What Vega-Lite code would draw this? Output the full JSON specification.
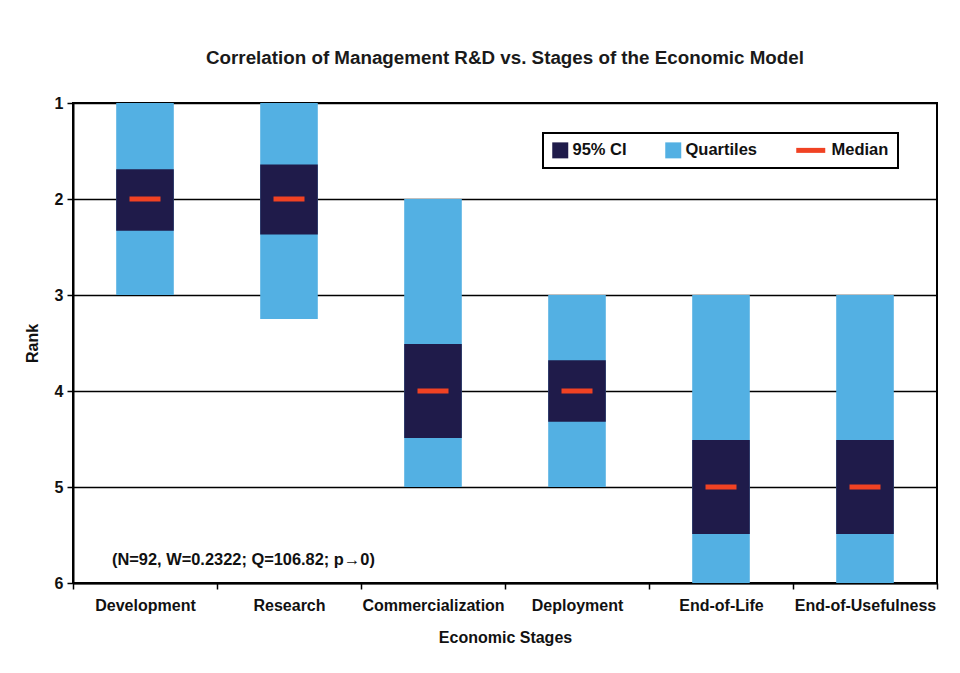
{
  "$schema": "https://vega.github.io/schema/vega-lite/v6.json",
  "width": 864,
  "height": 480,
  "autosize": {"type": "none"},
  "padding": {"left": 73, "top": 103, "right": 23, "bottom": 90},
  "background": "white",
  "config": {
    "font": "Liberation Sans",
    "view": {"stroke": "black", "strokeWidth": 2},
    "axis": {"labelFont": "Liberation Sans", "titleFont": "Liberation Sans", "labelFontWeight": "bold", "titleFontWeight": "bold", "labelColor": "#111", "titleColor": "#111"}
  },
  "title": {
    "text": "Correlation of Management R&D vs. Stages of the Economic Model",
    "font": "Liberation Sans",
    "fontSize": 18.8,
    "fontWeight": "bold",
    "color": "#1a1a1a",
    "anchor": "middle",
    "offset": 27
  },
  "data": {
    "values": [
      {"stage": "Development", "q1": 1, "q3": 3, "lo": 1.69, "hi": 2.33, "med": 2},
      {"stage": "Research", "q1": 1, "q3": 3.25, "lo": 1.64, "hi": 2.37, "med": 2},
      {"stage": "Commercialization", "q1": 2, "q3": 5, "lo": 3.51, "hi": 4.49, "med": 4},
      {"stage": "Deployment", "q1": 3, "q3": 5, "lo": 3.68, "hi": 4.32, "med": 4},
      {"stage": "End-of-Life", "q1": 3, "q3": 6, "lo": 4.51, "hi": 5.49, "med": 5},
      {"stage": "End-of-Usefulness", "q1": 3, "q3": 6, "lo": 4.51, "hi": 5.49, "med": 5}
    ]
  },
  "encoding": {
    "x": {
      "field": "stage",
      "type": "nominal",
      "sort": null,
      "scale": {"paddingInner": 0, "paddingOuter": 0},
      "axis": {
        "title": "Economic Stages",
        "labelAngle": 0,
        "labelFontSize": 16,
        "titleFontSize": 16,
        "labelPadding": 8,
        "titlePadding": 16,
        "tickBand": "extent",
        "tickColor": "black",
        "tickSize": 6,
        "tickWidth": 1.5,
        "domainColor": "black",
        "domainWidth": 2
      }
    }
  },
  "layer": [
    {
      "mark": {"type": "bar", "width": {"band": 0.4}},
      "encoding": {
        "y": {
          "field": "q1",
          "type": "quantitative",
          "scale": {"domain": [1, 6], "reverse": true, "nice": false, "zero": false},
          "axis": {
            "title": "Rank",
            "values": [1, 2, 3, 4, 5, 6],
            "format": "d",
            "labelFontSize": 16,
            "titleFontSize": 16,
            "grid": true,
            "gridColor": "black",
            "gridWidth": 1.5,
            "tickColor": "black",
            "tickSize": 6,
            "tickWidth": 1.5,
            "labelPadding": 4,
            "titlePadding": 14,
            "domainColor": "black",
            "domainWidth": 2
          }
        },
        "y2": {"field": "q3"},
        "color": {
          "datum": "Quartiles",
          "scale": {"domain": ["95% CI", "Quartiles", "Median"], "range": ["#1f1b4a", "#53b0e3", "#f04223"]},
          "legend": {
            "title": null,
            "orient": "none",
            "legendX": 470,
            "legendY": 30,
            "direction": "horizontal",
            "padding": 9,
            "strokeColor": "black",
            "fillColor": "white",
            "symbolSize": 256,
            "symbolType": "square",
            "symbolStrokeWidth": 0,
            "labelFont": "Liberation Sans",
            "labelFontSize": 16.5,
            "labelFontWeight": "bold",
            "labelColor": "#111",
            "columnPadding": 38,
            "labelOffset": 4,
            "encode": {
              "legend": {"update": {"strokeWidth": {"value": 2}}},
              "labels": {"update": {"dx": {"signal": "datum.value === 'Median' ? 15 : 0"}}},
              "symbols": {
                "update": {
                  "shape": {"signal": "datum.value === 'Median' ? 'M-1,-0.3125H2.625V0.3125H-1Z' : 'square'"},
                  "strokeWidth": {"value": 0}
                }
              }
            }
          }
        }
      }
    },
    {
      "mark": {"type": "bar", "width": {"band": 0.4}},
      "encoding": {
        "y": {"field": "lo", "type": "quantitative"},
        "y2": {"field": "hi"},
        "color": {"datum": "95% CI"}
      }
    },
    {
      "mark": {"type": "tick", "size": 31, "thickness": 5, "opacity": 1},
      "encoding": {
        "y": {"field": "med", "type": "quantitative"},
        "color": {"datum": "Median"}
      }
    },
    {
      "data": {"values": [{"stage": "Development", "r": 5.76, "label": "(N=92, W=0.2322; Q=106.82; p→0)"}]},
      "mark": {"type": "text", "align": "left", "baseline": "middle", "dx": -33, "font": "Liberation Sans", "fontSize": 16.4, "fontWeight": "bold", "color": "#111"},
      "encoding": {
        "y": {"field": "r", "type": "quantitative"},
        "text": {"field": "label"}
      }
    }
  ]
}
